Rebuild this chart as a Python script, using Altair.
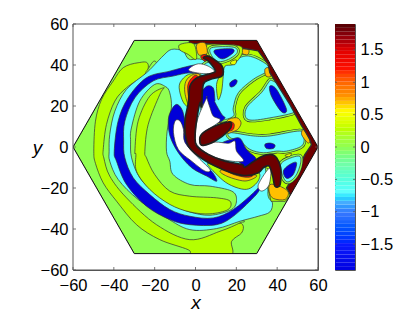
import altair as alt
import numpy as np
import pandas as pd

G = "#90ff50"; L = "#b4ff00"; C = "#66ffff"; B = "#0000d8"; DR = "#6e0000"
W = "#ffffff"; O = "#ffc000"; R = "#ff1000"; Y = "#e8ff00"
LINE = "#303030"

X_TICKS = [-60, -40, -20, 0, 20, 40, 60]
Y_TICKS = [-60, -40, -20, 0, 20, 40, 60]
CB_TICKS = [-1.5, -1, -0.5, 0, 0.5, 1, 1.5]
CB_STOPS = [-1.9, -1.5, -1, -0.85, -0.7, -0.3, 0, 0.25, 0.55, 0.8, 1.2, 1.5, 1.9]
CB_COLORS = ["#0000e0", "#0a1aff", "#3a7aff", "#4ab0ff", "#60ffff", "#70ffb0", "#90ff50",
             "#b8ff00", "#ffff00", "#ff9000", "#ff1000", "#e00000", "#500000"]

HEX = [(-60, 0), (-30, 52), (30, 52), (60, 0), (30, -52), (-30, -52)]
FRAME = [(-60, -60), (-60, 60), (60, 60), (60, -60)]
MASK = [(-60, -60), (-60, 60), (60, 60), (60, -60), (-60, -60), (-60, 0), (-30, -52), (30, -52),
        (60, 0), (30, 52), (-30, 52), (-60, 0)]

LIME_OUTER = [(-23.2,40.3),(-28.1,41.1),(-35.4,38.7),(-40.3,32.2),(-46,23.2),(-49,12.6),(-49.8,-2),
              (-49,-8),(-45.2,-17.5),(-38.7,-26.4),(-28.9,-37.9),(-17.5,-45.2),(-3.6,-50.1),(-1,-53),
              (17,-53),(17.7,-46),(22.6,-41.9),(23.1,-37.9),(18.5,-36.2),(0,-30),(-30,0),(-25,30)]
GREEN_BAND = [(-19.1,41.1),(-23.7,37.4),(-25.6,34.6),(-33.8,28.9),(-39.5,22.4),(-43.6,11),(-45.2,-1.3),
              (-44.9,-5.3),(-42,-14.2),(-33.8,-24.8),(-19.1,-37.9),(-2.8,-45.2),(12,-41.1),(21.8,-37),
              (23.4,-35.4),(15,-25),(0,-10),(-15,20)]
CYAN_OUTER = [(-3.1,42.8),(-6.1,46.8),(-11.8,47.6),(-15.9,44.4),(-19.1,41.1),(-24,36.2),(-33.8,28.1),
              (-39.5,17.5),(-42,6.1),(-42.3,-2.1),(-42,-6.9),(-37.9,-15.8),(-28.1,-25.6),(-14.2,-34.6),
              (-2.8,-40.3),(10.3,-39.8),(21.8,-36.2),(30.7,-33.8),(36.4,-31.7),(37.7,-27.3),(35.6,-24),
              (35,-15),(30,10),(25,30),(5,42)]
BLUE_MAIN = [(-3.1,39.5),(-12.6,37),(-24,33.8),(-33,24),(-37.9,12.6),(-39.8,-2.1),(-38.7,-6.9),(-33.8,-18.3),
             (-24,-28.9),(-12.6,-35.4),(-2.8,-37.9),(10.3,-37.9),(18.5,-33.8),(28.3,-24.8),(31.5,-20.7),
             (32.3,-18.3),(28.3,-22.4),(18.5,-30.5),(8.7,-34.6),(-2.7,-33.8),(-12.6,-30.5),(-22.4,-23.2),
             (-30.5,-15),(-34.6,-5.3),(-35.2,3),(-34.6,12.6),(-29.7,24),(-20.8,32.2),(-11,34.6),
             (-3.1,36.2),(3,36),(3,39),(0.6,40)]
GREEN_INNER = [(-31.8,2.9),(-31.3,-5.3),(-27.3,-15),(-19.1,-23.2),(-9.3,-28.9),(-2.8,-31.7),(7.1,-33.3),
               (17.7,-30.5),(20.1,-25.6),(17.7,-21.5),(7.1,-19.1),(-2.7,-18.3),(-11,-13.4),(-12.6,-6.9),
               (-14.2,-2.1),(-13.9,7.7),(-11.8,19.1),(-12.6,26.4),(-14.6,29.4),(-20,30.5),(-27.3,22.4),(-31.4,9.3)]
LIME_INNER = [(-29.7,-2.1),(-28.1,12.6),(-22.4,24.8),(-15.5,28.9),(-17.5,25.6),(-23.2,10.9),(-24.8,-2.1),
              (-24,-5.3),(-20,-13.4),(-12.6,-21.5),(-2.8,-24),(10.3,-24.8),(16.9,-26.4),(16,-30.5),
              (7.1,-32.6),(-2.7,-31.7),(-12.6,-28),(-22.4,-20.7),(-28.9,-11.8),(-29.2,-3.6)]
BLUE_CENTER = [(-11.6,18.4),(-9.2,20.8),(-6.7,18.4),(-5.4,13.5),(-5,5.4),(1.4,-6),(7.9,-11.8),(10.4,-16.7),
               (5.5,-14.2),(-1.9,-10.1),(-8.4,-2.8),(-12.5,5.4),(-13.3,13.5)]
WHITE_LEFT = [(-10,12.7),(-7.6,12.7),(-5.9,8.6),(-5.1,2.1),(1.4,-5.2),(7.1,-11),(4.7,-11.8),(-1.9,-6.9),
              (-8.4,-1.2),(-10.8,7)]
LIME_RIGHT = [(4,54),(32,54),(62,0),(46,-24),(44,-26.5),(37,-26.5),(35.5,-20),(36,-11),(28,-6),(20,-2),
              (17,6),(8,14),(5,30)]
CYAN_R1 = [(25.8,44.4),(34.8,40.3),(35.1,37),(28.3,33),(21,26.5),(18.5,19.1),(18.5,15),(12,13),(5,14),
           (3,25),(4,40),(16.9,42)]
CYAN_R2 = [(35.6,31.3),(32.3,26.5),(25,19.1),(25.8,13.4),(36.4,14.2),(49.5,17.5),(46.2,22.4),(41.3,29.7),(37.2,32.5)]
CYAN_R3 = [(16.9,7),(28.3,5.4),(36.5,5.4),(51.1,7.8),(53.1,4.9),(52,0.5),(44.6,-2),(39.7,-2),(33.2,-2.8),
           (26.7,-1.2),(21.8,2.9),(16.9,4.6)]
BLUE_R2 = [(36.4,29.7),(39.7,28.1),(44.6,18.3),(42.1,17.2),(37.2,24.8)]
BLUE_R3 = [(34,1.3),(36.5,1.9),(38.9,1),(38.1,-0.7),(34.8,-0.7)]
BLUE_DOT = [(16.9,31.3),(19.3,32.9),(20.4,32.1),(19.3,30),(17.2,29.3)]
EDGE_RED = [(-3,52.8),(31,54),(62,0.5),(47,-25),(46,-22.3),(44.6,-19.9),(50.3,-11),(53.6,-3.6),(56.8,1),
            (56,3.7),(53.6,7.8),(52,10.3),(46.2,20.8),(36.4,36.3),(35.6,40.3),(30.7,46.9),(16.9,49.3),
            (5.5,50.4),(-3,50.5)]
EDGE_ORANGE = [(34,38),(36.1,38.5),(37,34.6),(34.5,34.6)]
STRIP_ORANGE = [(21.8,47.6),(26,47.5),(25.5,45),(22.5,45.8)]
VERTEX_ORANGE = [(53,8.5),(56,3.5),(55,2),(52,6)]
RING_LIME = [(6.3,50),(20.9,49.5),(23,46.8),(21.7,43.5),(18.5,40.2),(14.4,39.4),(13.6,34.5),(12.8,27.2),
             (11.1,23.1),(10.3,30.5),(12,36.2),(9.5,40.2),(6.3,44),(4.6,46.8)]
RING_CYAN = [(7.9,48.4),(18.5,48.7),(20.4,46),(16,42.7),(11.1,41.7),(7.9,44.6)]
RING_BLUE = [(9.5,47.3),(17.7,47.9),(18.5,46),(13.6,43),(10.3,44.6)]
RING_YELLOW = [(17.7,41.9),(20.1,42.4),(19.3,40.2),(17.2,40.6)]
LOW_CYAN = [(42.2,-7.7),(50.3,-4.4),(51.5,-7.7),(49,-14.2),(45,-17),(42.5,-13.4)]
LOW_BLUE = [(43,-11.7),(46.2,-8.5),(49.5,-7.7),(47.9,-13.4),(44.6,-15.3)]
LOW_YELLOW = [(43.8,-4.1),(47,-3.1),(45.9,-4.7)]
LOW_ORANGE = [(36.5,-18.3),(41,-19),(45.4,-21.9),(43.8,-25.6),(38.1,-25.1),(36.1,-21.9)]
LOW_RED = [(38.9,-15),(41,-17.5),(40.2,-19.1),(38.9,-19.1)]
TOP_LIME = [(-7.6,50),(-1.1,50.5),(0.6,44.3),(-0.3,42.7),(-3.5,45.1),(-7.6,47.3)]
TOP_ORANGE = [(0.6,50),(4.6,50.8),(5.8,46),(4.1,45.1),(1.4,45.1)]
TOP_RED = [(2.5,44),(4.6,45.1),(6.7,43.5),(4.6,41.9)]
SIDE_LIME = [(-7.6,31.3),(-3.5,35.4),(2.2,35.4),(2.2,31.3),(-1.1,19.9),(-5.2,20.7),(-7.6,26.4)]
SIDE_ORANGE = [(-4.7,32.1),(-1.1,35.4),(2.2,34.5),(-1,25),(-3,19.9),(-5.2,26.4)]
SIDE_RED = [(-3.8,30),(-1,34.5),(1,34.5),(-1,31),(-2.7,22)]
BLUE_UP = [(5.4,29.6),(8.7,28.8),(9.5,23.1),(9.6,21.7),(12.8,16),(14.4,14),(9.6,11.9),(3.9,20),(2.2,24.9)]
BLUE_LOW = [(12.8,0.8),(17.7,3.7),(21.8,4.2),(25,-1.2),(29.4,-5.2),(29.1,-7.7),(25,-9.6),(21.8,-7.7)]
WHITE_MID = [(5.5,24.1),(5.5,24.1),(7.1,19.2),(8.7,15.1),(12,12.7),(3,6.2),(2.2,2.1),(3.8,0.8),(9.6,2.4),(16.1,1.8),
             (19.3,2.9),(20.1,-2),(23.4,-6.9),(14.4,-6.4),(6.3,-3.6),(0.6,1.3),(-0.2,5.3),(0.6,11.9),(2.2,16.8)]
WHITE_LOW = [(30.8,-18.3),(36.5,-10.1),(36.1,-18.3),(32.4,-21.5)]
WHITE_TOP = [(-2.7,38.6),(1.4,40.6),(6.3,39.4),(9.5,36.5),(3.8,35.8),(-2.7,37)]
UNDER_LIME = [(6,-8),(11,-14),(16,-18),(22.6,-20.5),(27,-20),(31,-16),(30,-12),(17,-12)]
UNDER_ORANGE = [(12,-12),(16,-14.5),(23,-16.5),(27,-16),(30,-14),(25,-13),(15,-11)]
UNDER_RED = [(15,-11.5),(19,-13.5),(25,-14.8),(28,-14),(24,-13),(17,-12)]
SNAKE = [(3.8,43.5),(6.3,44.3),(9.5,42.4),(12.8,39.8),(13.6,37),(12.8,34.5),(7.1,32.9),(3.8,30.5),(3,19.9),
         (2.2,21.6),(0.6,13.5),(-0.2,5.3),(0.6,0.5),(6.3,-3.6),(14.4,-6.9),(22.6,-8.5),(24.2,-9.8),(28.3,-7.2),
         (32.4,-4.7),(36.5,-3.6),(39.7,-5.2),(41.7,-10.1),(41.7,-16.6),(41,-19.1),(38.9,-19.1),(37.8,-14.2),
         (36.1,-9.3),(33.2,-10.1),(30.8,-12.6),(25,-14),(17.7,-12.6),(9.6,-9.3),(1.4,-4.4),(-3.5,0.5),(-5.1,7),
         (-5.1,13.5),(-3.5,21.6),(-2.7,29.7),(0.6,33.7),(8.7,36.2),(9.5,37.8),(6.3,41.9)]
TIP_ORANGE = [(15.3,12.7),(20.1,14.3),(22.3,11.9),(21,8.9),(18.5,7.5),(15.3,7)]
TIP_RED = [(16.1,12.2),(18.8,11.5),(18.5,8.6),(16.1,8.1)]
OVAL = [(2.2,2.1),(3,6.2),(9.6,10.2),(16.1,12.2),(17.7,11),(16.1,7.8),(9.6,2.9),(3.8,0.8)]

sx = alt.Scale(domain=[-60, 60], nice=False, zero=False)
sy = alt.Scale(domain=[-60, 60], nice=False, zero=False)
AX = dict(tickSize=0, ticks=False, domain=False, grid=False, labelFontSize=16.5, labelFont="Liberation Sans",
          labelColor="#000", labelFlush=False, labelOverlap=False)
TT = dict(titleFont="Liberation Sans", titleFontSize=19, titleFontStyle="italic",
          titleFontWeight="normal", titleColor="#000")
AXIS_X = alt.Axis(values=X_TICKS, title="x", labelPadding=7, titlePadding=0, **AX, **TT)
AXIS_Y = alt.Axis(values=Y_TICKS, title="y", titleAngle=0, titleAlign="center", titleBaseline="middle",
                  labelPadding=5, titlePadding=3, **AX, **TT)


def enc_x(f):
    return alt.X(f, scale=sx, axis=AXIS_X)


def enc_y(f):
    return alt.Y(f, scale=sy, axis=AXIS_Y)


def poly(pts, color, interp="cardinal-closed", stroke=LINE, sw=0.7, clip=True):
    df = pd.DataFrame(pts, columns=["x", "y"]).assign(i=lambda d: range(len(d)))
    mk = alt.Chart(df).mark_line(interpolate=interp, fill=color, strokeWidth=sw, clip=clip,
                                 stroke=stroke if stroke else "transparent", strokeJoin="round")
    return mk.encode(x=enc_x("x:Q"), y=enc_y("y:Q"), order="i:Q")


def halo(pts, color):
    return [poly(pts, G, stroke=LINE, sw=4.6), poly(pts, G, stroke=G, sw=3.4), poly(pts, color)]


layers = [
    poly(HEX, G, "linear-closed"), poly(LIME_OUTER, L), poly(GREEN_BAND, G), poly(CYAN_OUTER, C),
    poly(BLUE_MAIN, B), poly(GREEN_INNER, G), poly(LIME_INNER, L), poly(BLUE_CENTER, B), poly(WHITE_LEFT, W),
    poly(LIME_RIGHT, L, "linear-closed"), *halo(CYAN_R1, C), poly(BLUE_DOT, B), *halo(CYAN_R2, C), poly(BLUE_R2, B),
    *halo(CYAN_R3, C), poly(BLUE_R3, B), poly(EDGE_ORANGE, O), poly(STRIP_ORANGE, O), poly(VERTEX_ORANGE, O),
    poly(EDGE_RED, DR, "linear-closed", sw=1.4),
    poly(RING_LIME, L), *halo(RING_CYAN, C), poly(RING_BLUE, B), poly(RING_YELLOW, Y),
    *halo(LOW_CYAN, C), poly(LOW_BLUE, B), poly(LOW_YELLOW, Y), poly(LOW_ORANGE, O), poly(LOW_RED, R),
    poly(TOP_LIME, L), poly(TOP_ORANGE, O), poly(TOP_RED, R), poly(SIDE_LIME, L), poly(SIDE_ORANGE, O),
    poly(SIDE_RED, R), poly(BLUE_UP, B), poly(BLUE_LOW, B), poly(WHITE_MID, W), poly(WHITE_LOW, W),
    poly(WHITE_TOP, W), poly(UNDER_LIME, L), poly(UNDER_ORANGE, O), poly(UNDER_RED, R),
    poly(SNAKE, DR, stroke="#202020", sw=1.7),
    poly(TIP_ORANGE, O), poly(TIP_RED, R), poly(OVAL, DR, stroke="#202020", sw=1.7),
    poly(MASK, W, "linear-closed", stroke=None), poly(HEX, "transparent", "linear-closed", stroke="#111", sw=1),
    poly(FRAME, "transparent", "linear-closed", stroke="#555", sw=1, clip=False),
]

TLEN = 3
tx = pd.DataFrame({"t": X_TICKS})
ty = pd.DataFrame({"t": Y_TICKS})
RULE = dict(stroke="#555", strokeWidth=0.8)
ax_x = alt.Chart(tx).mark_rule(**RULE).encode(x=enc_x("t:Q"), y=alt.value(246), y2=alt.value(246 - TLEN))
ax_xt = alt.Chart(tx).mark_rule(**RULE).encode(x=enc_x("t:Q"), y=alt.value(0), y2=alt.value(TLEN))
ax_y = alt.Chart(ty).mark_rule(**RULE).encode(y=enc_y("t:Q"), x=alt.value(0), x2=alt.value(TLEN))
ax_yr = alt.Chart(ty).mark_rule(**RULE).encode(y=enc_y("t:Q"), x=alt.value(245), x2=alt.value(245 - TLEN))

main = alt.layer(*layers, ax_x, ax_xt, ax_y, ax_yr).properties(width=245, height=246)

edges = np.linspace(-1.9, 1.9, 65)
cb = pd.DataFrame({"a": edges[:-1], "b": edges[1:], "c": (edges[:-1] + edges[1:]) / 2})
sc = alt.Scale(domain=[-1.9, 1.9], nice=False, zero=False)
AXIS_CB = alt.Axis(values=CB_TICKS, orient="right", title=None, format="~g", labelPadding=5, **AX)
bar = alt.Chart(cb).mark_rect().encode(
    y=alt.Y("a:Q", scale=sc, axis=AXIS_CB), y2="b:Q", x=alt.value(0), x2=alt.value(20),
    color=alt.Color("c:Q", legend=None, scale=alt.Scale(domain=CB_STOPS, range=CB_COLORS)))
cbt = pd.DataFrame({"t": CB_TICKS})
bl = alt.Chart(cbt).mark_rule(**RULE).encode(y=alt.Y("t:Q", scale=sc, axis=AXIS_CB), x=alt.value(0), x2=alt.value(2))
br = alt.Chart(cbt).mark_rule(**RULE).encode(y=alt.Y("t:Q", scale=sc, axis=AXIS_CB), x=alt.value(20), x2=alt.value(18))
colorbar = alt.layer(bar, bl, br).properties(width=20, height=246)

chart = alt.hconcat(main, colorbar, spacing=17, bounds="flush").properties(
    padding={"left": 23, "top": 7, "right": 5, "bottom": 2}, background="white"
).configure_view(stroke="#555", strokeWidth=1)

chart.save("out.html", embed_options={"renderer": "svg", "actions": False})
